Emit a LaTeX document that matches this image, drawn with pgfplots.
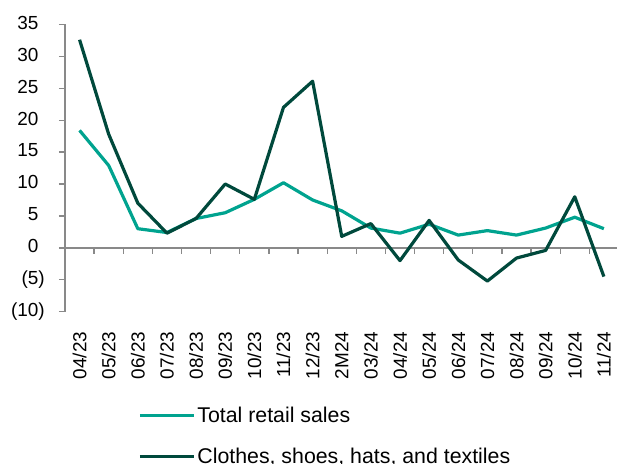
\documentclass[border=0pt]{standalone}
\usepackage{pgfplots}
\pgfplotsset{compat=1.18}
\usepackage{fontspec}
\setmainfont{Liberation Sans}
\definecolor{tealc}{RGB}{0,163,143}
\definecolor{darkc}{RGB}{0,73,60}
\definecolor{axgray}{RGB}{137,137,137}
\begin{document}
\begin{tikzpicture}
\useasboundingbox (-65bp,-152.3bp) rectangle (552bp,311.7bp);
\begin{axis}[
  at={(0,0)}, anchor=south west,
  scale only axis,
  width=552bp, height=287.3bp,
  xmin=-0.5, xmax=18.45,
  ymin=-10, ymax=35,
  clip=false,
  axis y line*=left,
  axis x line*=bottom,
  x axis line style={draw=none},
  y axis line style={axgray, line width=1.3bp},
  xtick={0,...,18},
  xticklabels={04/23,05/23,06/23,07/23,08/23,09/23,10/23,11/23,12/23,2M24,03/24,04/24,05/24,06/24,07/24,08/24,09/24,10/24,11/24},
  major x tick style={draw=none},
  xticklabel style={rotate=90, anchor=east, inner sep=0pt},
  xticklabel shift=20bp,
  ytick={-10,-5,0,5,10,15,20,25,30,35},
  yticklabels={(10),(5),0\phantom{)},5\phantom{)},10\phantom{)},15\phantom{)},20\phantom{)},25\phantom{)},30\phantom{)},35\phantom{)}},
  ytick align=outside,
  major tick length=6bp,
  y tick style={axgray, line width=1.3bp},
  yticklabel style={anchor=east, inner sep=0pt},
  yticklabel shift=14bp,
  tick label style={font=\fontsize{19}{22}\selectfont},
  /pgf/number format/assume math mode=true,
  legend style={at={(rel axis cs:0,0)}, anchor=north west, xshift=73bp, yshift=-93bp,
    draw=none, fill=none, row sep=20bp, font=\fontsize{21.4}{25}\selectfont,
    cells={anchor=west}, inner sep=0pt},
  legend image code/.code={\draw[#1, line width=3.2bp] (0bp,0bp) -- (54bp,0bp);},
  every axis plot/.append style={line width=3.2bp, line join=round},
]
\draw[axgray, line width=1.3bp] (axis cs:-0.5,0) -- (axis cs:18.45,0);
\pgfplotsinvokeforeach{0,...,17}{\draw[axgray, line width=1.3bp] (axis cs:#1.5,0) -- ([yshift=-6bp]axis cs:#1.5,0);}
\addplot[tealc, mark=none] coordinates {
(0,18.4) (1,12.9) (2,3.0) (3,2.4) (4,4.6) (5,5.5) (6,7.6) (7,10.2) (8,7.5) (9,5.8)
(10,3.1) (11,2.3) (12,3.7) (13,2.0) (14,2.7) (15,2.0) (16,3.1) (17,4.8) (18,3.0)};
\addlegendentry{Total retail sales}
\addplot[darkc, mark=none] coordinates {
(0,32.6) (1,17.8) (2,7.0) (3,2.3) (4,4.6) (5,10.0) (6,7.6) (7,22.0) (8,26.1) (9,1.8)
(10,3.8) (11,-2.0) (12,4.3) (13,-1.9) (14,-5.2) (15,-1.6) (16,-0.4) (17,8.0) (18,-4.5)};
\addlegendentry{Clothes, shoes, hats, and textiles}
\end{axis}
\end{tikzpicture}
\end{document}
